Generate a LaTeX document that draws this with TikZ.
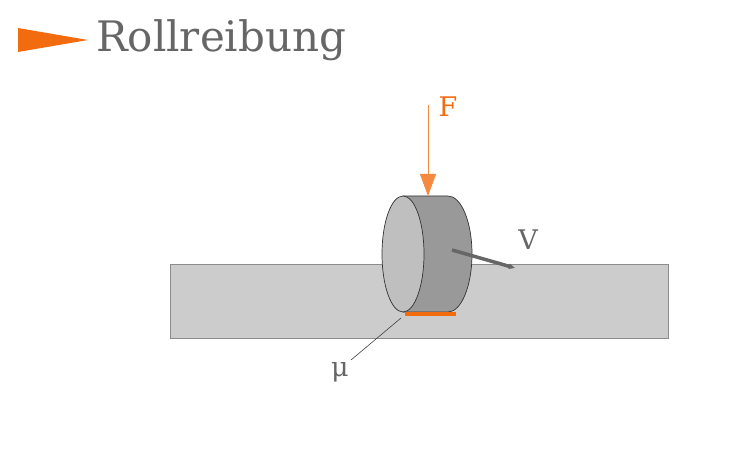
\documentclass[tikz,border=0pt]{standalone}
\usepackage{fontspec}
\setmainfont{DejaVu Serif}
\usetikzlibrary{arrows.meta}
\definecolor{org}{HTML}{F26B0F}
\definecolor{txt}{HTML}{666666}
\begin{document}
\begin{tikzpicture}[x=1pt,y=-1pt,
  lbl/.style={text=txt,inner sep=0pt,font=\fontsize{27}{27}\selectfont}]
\useasboundingbox (0,0) rectangle (750,465);
% title
\fill[org] (18,28) -- (88,40) -- (18,52) -- cycle;
\node[lbl,anchor=west,font=\fontsize{42}{42}\selectfont] (title) at (96,40) {Rollreibung};
% bar
\draw[fill=black!20,draw=black!45,line width=0.8pt] (170,264) rectangle (668,338);
% cylinder side
\draw[fill=black!40,draw=black!80,line width=0.7pt]
  (403,196) -- (448,196) arc[start angle=-90,end angle=90,x radius=24,y radius=58] -- (403,312) -- cycle;
% front face
\draw[fill=black!25,draw=black!80,line width=0.7pt] (403,254) ellipse [x radius=21,y radius=58];
% contact
\draw[org,line width=3.5pt] (405,314) -- (456,314);
% F
\coordinate (Fs) at (428,105);
\coordinate (Ft) at (428,196);
\draw[org!80,line width=0.8pt,-{Triangle[length=22pt,width=16pt]}] (Fs) -- (Ft);
\node[lbl,text=org] (F) at (448,107) {F};
% V
\coordinate (Vs) at (452,250);
\coordinate (Vt) at (515,268);
\draw[black!60,line width=3.5pt,-{Triangle[length=6pt,width=5pt]}] (Vs) -- (Vt);
\node[lbl] (V) at (528,240) {V};
% mu
\coordinate (ms) at (401,318);
\draw[black!75,line width=0.6pt] (ms) -- (351,360);
\node[lbl] (mu) at (340,372) {μ};
\end{tikzpicture}
\end{document}
